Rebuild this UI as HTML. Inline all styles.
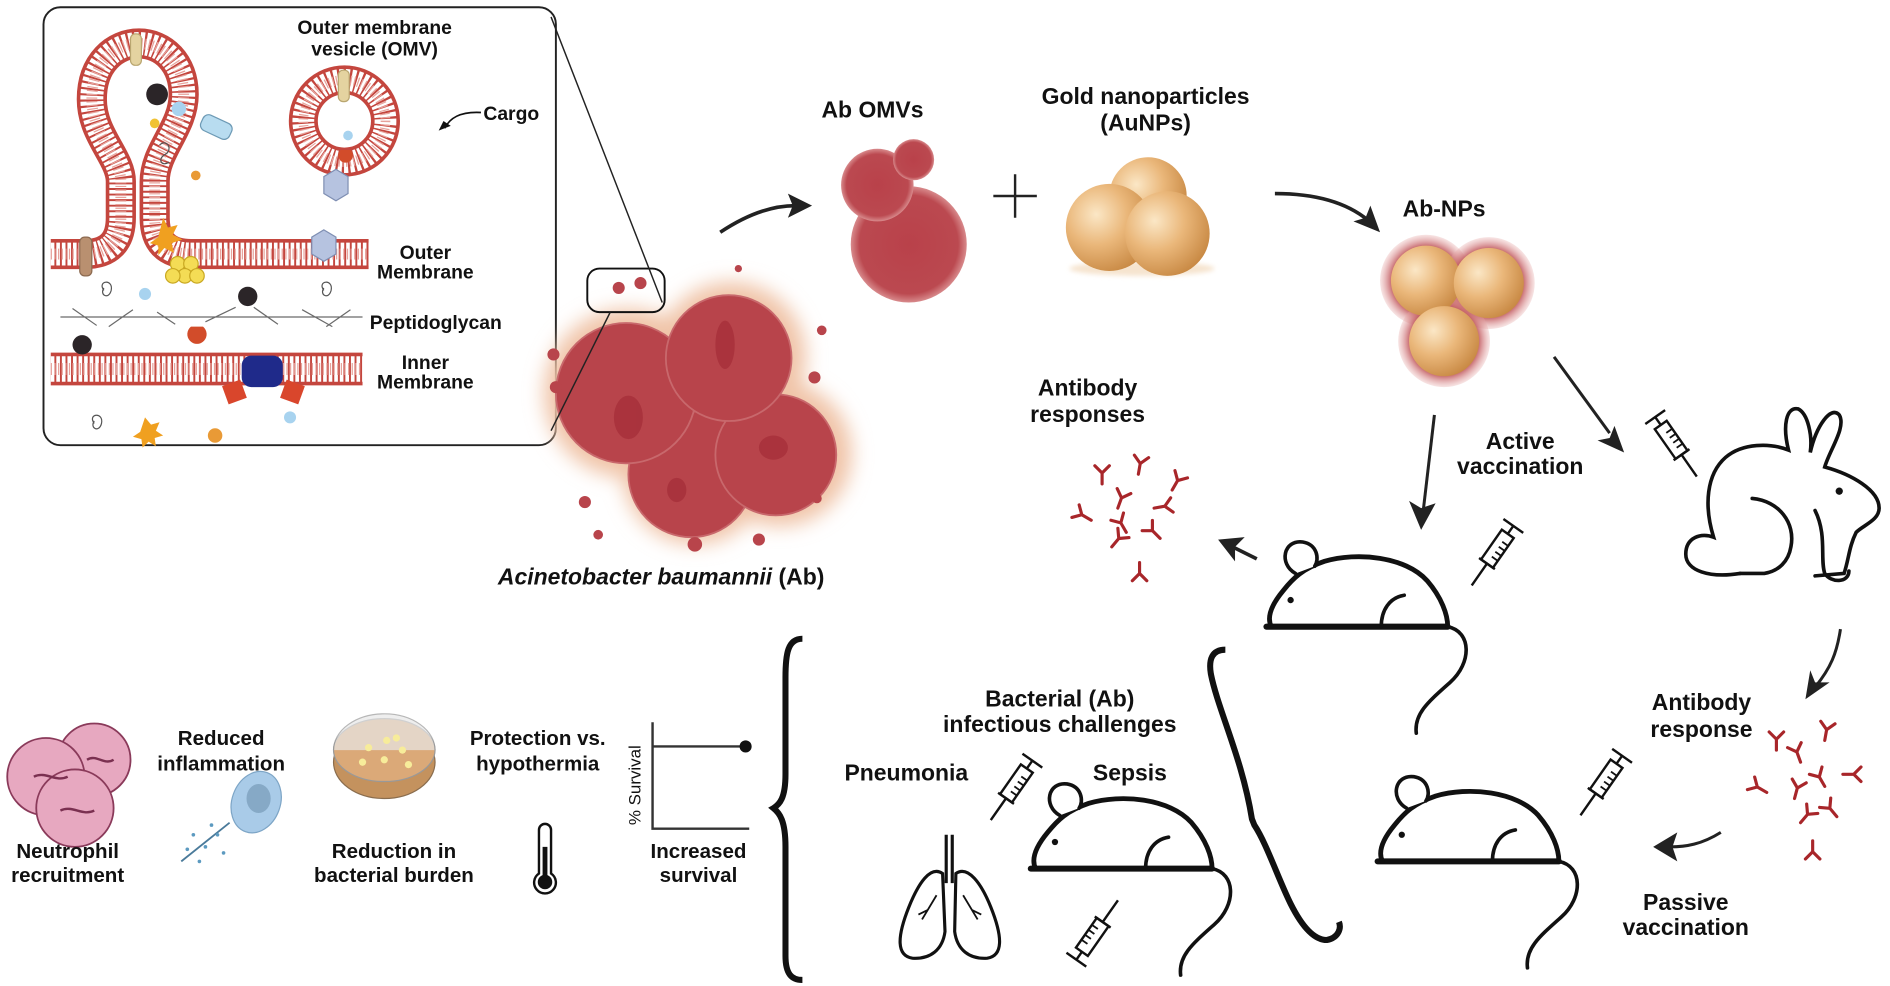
<!DOCTYPE html>
<html><head><meta charset="utf-8"><style>
html,body{margin:0;padding:0;background:#fff;}
svg{display:block;}
text{font-family:"Liberation Sans",sans-serif;font-weight:bold;fill:#111;}
</style></head><body>
<svg width="1890" height="986" viewBox="0 0 1564 815" preserveAspectRatio="none" xmlns="http://www.w3.org/2000/svg">
<defs>
<filter id="blur6" x="-50%" y="-50%" width="200%" height="200%"><feGaussianBlur stdDeviation="8"/></filter>
<filter id="blur2" x="-50%" y="-50%" width="200%" height="200%"><feGaussianBlur stdDeviation="2"/></filter>
<radialGradient id="gold" cx="35%" cy="35%" r="70%"><stop offset="0" stop-color="#fbe7c6"/><stop offset="0.5" stop-color="#eab77a"/><stop offset="1" stop-color="#c98a45"/></radialGradient>
<radialGradient id="red" cx="50%" cy="50%" r="50%"><stop offset="0" stop-color="#b9414a"/><stop offset="0.85" stop-color="#bb4950"/><stop offset="1" stop-color="#d88a8c"/></radialGradient>
<radialGradient id="halo" cx="50%" cy="50%" r="50%"><stop offset="0.7" stop-color="#b8454c"/><stop offset="1" stop-color="#e6a7a6" stop-opacity="0.3"/></radialGradient>
<g id="ab" stroke="#a8262a" stroke-width="2.6" fill="none" stroke-linecap="round"><path d="M0,0 L0,-9 M0,-9 L-6,-15 M0,-9 L6,-15"/></g>
<g id="syr" stroke="#111" stroke-width="2" fill="#fff">
<path d="M-4,-10 L-4,10 M-4,0 L4,0"/><rect x="4" y="-6" width="30" height="12"/>
<path d="M34,-8 L34,8 M34,0 L40,0 M40,0 L56,0" fill="none"/>
<path d="M12,-6 L12,0 M17,-6 L17,0 M22,-6 L22,0 M27,-6 L27,0" fill="none" stroke-width="1.5"/>
</g>
<g id="mouse" fill="none" stroke="#111" stroke-linecap="round">
<path d="M0,0 L150,0" stroke-width="5"/>
<path d="M4,0 C0,-8 4,-18 14,-30 C22,-40 30,-48 48,-54 C75,-62 115,-58 133,-38 C145,-24 150,-10 150,0" stroke-width="4"/>
<path d="M24,-44 C10,-52 14,-72 30,-70 C42,-68 44,-56 40,-50" stroke-width="3" fill="#fff"/>
<circle cx="20" cy="-22" r="2.6" fill="#111" stroke="none"/>
<path d="M95,0 C95,-14 102,-24 114,-26" stroke-width="3"/>
<path d="M150,0 C170,4 170,30 152,46 C134,62 122,72 124,88" stroke-width="3"/>
</g>
</defs>

<!-- inset box -->
<rect x="36" y="6" width="424" height="362" rx="14" fill="#fff" stroke="#222" stroke-width="1.6"/>

<!-- membranes -->
<g fill="none">
<path d="M42,210 L70,210 C90,210 100,200 100,180 L100,150 C100,130 76,112 76,82 C76,52 95,36 115,36 C135,36 152,52 152,78 C152,106 128,124 128,150 L128,180 C128,200 138,210 158,210 L305,210" stroke="#c4463e" stroke-width="25"/>
<path d="M42,210 L70,210 C90,210 100,200 100,180 L100,150 C100,130 76,112 76,82 C76,52 95,36 115,36 C135,36 152,52 152,78 C152,106 128,124 128,150 L128,180 C128,200 138,210 158,210 L305,210" stroke="#fff" stroke-width="19" stroke-dasharray="3 1.6"/>
<path d="M42,210 L70,210 C90,210 100,200 100,180 L100,150 C100,130 76,112 76,82 C76,52 95,36 115,36 C135,36 152,52 152,78 C152,106 128,124 128,150 L128,180 C128,200 138,210 158,210 L305,210" stroke="#e7a39c" stroke-width="9" stroke-dasharray="1 2"/>
<circle cx="285" cy="100" r="34" stroke="#c4463e" stroke-width="24"/>
<circle cx="285" cy="100" r="34" stroke="#fff" stroke-width="18" stroke-dasharray="3 1.6"/>
<circle cx="285" cy="100" r="34" stroke="#e7a39c" stroke-width="8" stroke-dasharray="1 2"/>
<path d="M42,305 L300,305" stroke="#c4463e" stroke-width="27"/>
<path d="M42,305 L300,305" stroke="#fff" stroke-width="21" stroke-dasharray="3 1.6"/>
<path d="M42,305 L300,305" stroke="#e7a39c" stroke-width="10" stroke-dasharray="1 2"/>
</g>
<!-- inset contents -->
<rect x="108" y="28" width="9" height="26" rx="4" fill="#e4d3a0" stroke="#b9a670"/>
<rect x="280" y="58" width="9" height="26" rx="4" fill="#e4d3a0" stroke="#b9a670"/>
<rect x="66" y="196" width="10" height="32" rx="4" fill="#b99070" stroke="#8c6a50"/>
<circle cx="130" cy="78" r="9" fill="#2b2528"/>
<circle cx="128" cy="102" r="4" fill="#f1c233"/>
<circle cx="148" cy="90" r="6" fill="#a8d3ef"/>
<rect x="166" y="98" width="26" height="14" rx="5" fill="#b8dcf0" stroke="#6d9ab5" transform="rotate(25 179 105)"/>
<circle cx="162" cy="145" r="4" fill="#e99a36"/>
<path d="M132,120 c6,-6 12,4 4,8 c-6,4 -2,10 4,6" fill="none" stroke="#555" stroke-width="1"/>
<polygon points="268,190 278,196 278,210 268,216 258,210 258,196" fill="#b6c3e0" stroke="#7f8fb3"/>
<polygon points="278,140 288,146 288,160 278,166 268,160 268,146" fill="#b6c3e0" stroke="#7f8fb3"/>
<circle cx="288" cy="112" r="4" fill="#a8d3ef"/>
<path d="M282,124 a6,6 0 1 0 8,0 z" fill="#d24c2a"/>
<g fill="#f4dc55" stroke="#c9a822"><circle cx="147" cy="218" r="6"/><circle cx="158" cy="218" r="6"/><circle cx="153" cy="228" r="6"/><circle cx="143" cy="228" r="6"/><circle cx="163" cy="228" r="6"/></g>
<path d="M135,180 l4,8 8,-2 -4,8 8,4 -9,3 2,8 -8,-4 -5,6 0,-8 -7,-2 7,-5z" fill="#f0a020"/>
<circle cx="205" cy="245" r="8" fill="#2b2528"/>
<circle cx="68" cy="285" r="8" fill="#2b2528"/>
<path d="M158,270 a8,8 0 1 0 10,0 z" fill="#d24c2a"/>
<circle cx="120" cy="243" r="5" fill="#a8d3ef"/>
<circle cx="240" cy="345" r="5" fill="#a8d3ef"/>
<circle cx="178" cy="360" r="6" fill="#e99a36"/>
<path d="M120,345 l5,6 7,-2 -3,7 6,4 -7,2 1,7 -6,-4 -5,5 -1,-7 -7,-2 6,-4z" fill="#f0a020"/>
<rect x="200" y="294" width="34" height="26" rx="8" fill="#1f2a8a"/>
<rect x="186" y="316" width="16" height="16" fill="#d9462c" transform="rotate(-20 194 324)"/>
<rect x="234" y="316" width="16" height="16" fill="#d9462c" transform="rotate(20 242 324)"/>
<path d="M50,262 L300,262 M60,255 l20,14 M90,270 l20,-14 M130,258 l15,10 M170,266 l25,-12 M210,254 l20,14 M250,256 l25,14 M270,270 l20,-14" stroke="#6a6a6a" stroke-width="1" fill="none"/>
<g fill="none" stroke="#555" stroke-width="1"><path d="M86,240 c-6,-8 8,-10 6,0 c-2,8 -10,4 -6,-2"/><path d="M268,240 c-6,-8 8,-10 6,0 c-2,8 -10,4 -6,-2"/><path d="M78,350 c-6,-8 8,-10 6,0 c-2,8 -10,4 -6,-2"/></g>

<text x="310" y="28" font-size="16" text-anchor="middle">Outer membrane</text>
<text x="310" y="46" font-size="16" text-anchor="middle">vesicle (OMV)</text>
<text x="400" y="99" font-size="16">Cargo</text>
<path d="M398,93 C380,92 372,98 368,106" fill="none" stroke="#111" stroke-width="1.4"/>
<path d="M363,108 l10,-4 -6,-4z" fill="#111"/>
<text x="352" y="214" font-size="16" text-anchor="middle">Outer</text>
<text x="352" y="230" font-size="16" text-anchor="middle">Membrane</text>
<text x="306" y="272" font-size="16">Peptidoglycan</text>
<text x="352" y="305" font-size="16" text-anchor="middle">Inner</text>
<text x="352" y="321" font-size="16" text-anchor="middle">Membrane</text>

<!-- bacteria -->
<g filter="url(#blur6)" fill="#f0c4a8"><circle cx="520" cy="325" r="70"/><circle cx="605" cy="295" r="62"/><circle cx="575" cy="390" r="60"/><circle cx="645" cy="375" r="60"/></g>
<g fill="#b8444b" stroke="#c8686c" stroke-width="1.5">
<circle cx="572" cy="392" r="52"/><circle cx="642" cy="376" r="50"/>
<circle cx="518" cy="325" r="58"/><circle cx="603" cy="296" r="52"/>
</g>
<g fill="#a6303a" opacity="0.8"><ellipse cx="520" cy="345" rx="12" ry="18"/><ellipse cx="600" cy="285" rx="8" ry="20"/><ellipse cx="640" cy="370" rx="12" ry="10"/><ellipse cx="560" cy="405" rx="8" ry="10"/></g>
<g fill="#b8444b"><circle cx="512" cy="238" r="5"/><circle cx="530" cy="234" r="5"/><circle cx="458" cy="293" r="5"/><circle cx="460" cy="320" r="5"/><circle cx="680" cy="273" r="4"/><circle cx="674" cy="312" r="5"/><circle cx="484" cy="415" r="5"/><circle cx="495" cy="442" r="4"/><circle cx="575" cy="450" r="6"/><circle cx="628" cy="446" r="5"/><circle cx="676" cy="412" r="4"/><circle cx="611" cy="222" r="3"/></g>
<rect x="486" y="222" width="64" height="36" rx="10" fill="none" stroke="#111" stroke-width="1.6"/>
<line x1="456" y1="14" x2="548" y2="250" stroke="#222" stroke-width="1.2"/>
<line x1="456" y1="356" x2="505" y2="258" stroke="#222" stroke-width="1.2"/>
<text x="412" y="483" font-size="19" font-style="italic">Acinetobacter baumannii <tspan font-style="normal">(Ab)</tspan></text>

<!-- arrows top -->
<path d="M596,192 C620,176 640,170 658,170" fill="none" stroke="#222" stroke-width="3"/>
<path d="M672,170 l-20,-10 4,10 -4,10z" fill="#222"/>
<text x="722" y="97" font-size="19" text-anchor="middle">Ab OMVs</text>
<g fill="url(#red)"><circle cx="752" cy="202" r="48"/><circle cx="726" cy="153" r="30"/><circle cx="756" cy="132" r="17"/></g>
<path d="M822,162 L858,162 M840,144 L840,180" stroke="#222" stroke-width="2"/>
<text x="948" y="86" font-size="19" text-anchor="middle">Gold nanoparticles</text>
<text x="948" y="108" font-size="19" text-anchor="middle">(AuNPs)</text>
<ellipse cx="945" cy="222" rx="60" ry="6" fill="#f6e4cf" filter="url(#blur2)"/>
<circle cx="950" cy="162" r="32" fill="url(#gold)"/><circle cx="918" cy="188" r="36" fill="url(#gold)"/><circle cx="966" cy="193" r="35" fill="url(#gold)"/>
<path d="M1055,160 C1090,160 1115,168 1132,182" fill="none" stroke="#222" stroke-width="3"/>
<path d="M1142,192 l-8,-22 -4,10 -10,3z" fill="#222"/>
<text x="1195" y="179" font-size="19" text-anchor="middle">Ab-NPs</text>
<g><circle cx="1180" cy="232" r="38" fill="url(#halo)"/><circle cx="1232" cy="234" r="38" fill="url(#halo)"/><circle cx="1195" cy="282" r="38" fill="url(#halo)"/>
<circle cx="1180" cy="232" r="29" fill="url(#gold)"/><circle cx="1232" cy="234" r="29" fill="url(#gold)"/><circle cx="1195" cy="282" r="29" fill="url(#gold)"/></g>

<!-- middle right -->
<text x="900" y="327" font-size="19" text-anchor="middle">Antibody</text>
<text x="900" y="349" font-size="19" text-anchor="middle">responses</text>
<g>
<use href="#ab" transform="translate(912,400)"/><use href="#ab" transform="translate(925,420) rotate(20)"/><use href="#ab" transform="translate(942,392) rotate(10)"/>
<use href="#ab" transform="translate(903,430) rotate(-60)"/><use href="#ab" transform="translate(932,440) rotate(-30)"/><use href="#ab" transform="translate(955,420) rotate(80)"/>
<use href="#ab" transform="translate(920,452) rotate(40)"/><use href="#ab" transform="translate(960,445) rotate(-45)"/><use href="#ab" transform="translate(943,465) rotate(180)"/>
<use href="#ab" transform="translate(970,405) rotate(30)"/>
</g>
<path d="M1040,462 L1020,452" stroke="#222" stroke-width="3"/>
<path d="M1008,446 l22,-2 -8,8 0,12z" fill="#222"/>
<path d="M1187,343 L1178,420" stroke="#222" stroke-width="2.5"/>
<path d="M1176,438 l-10,-24 10,6 12,-4z" fill="#222"/>
<text x="1258" y="371" font-size="19" text-anchor="middle">Active</text>
<text x="1258" y="392" font-size="19" text-anchor="middle">vaccination</text>
<path d="M1286,295 L1332,358" stroke="#222" stroke-width="2.5"/>
<path d="M1344,374 l-22,-10 10,-2 4,-10z" fill="#222"/>
<use href="#syr" transform="translate(1372,348) rotate(55)"/>
<use href="#syr" transform="translate(1250,438) rotate(125)"/>
<use href="#mouse" transform="translate(1048,518)"/>

<!-- rabbit -->
<g fill="none" stroke="#111" stroke-width="3" stroke-linecap="round">
<path d="M1440,474 C1415,478 1395,472 1395,458 C1395,444 1408,440 1418,444 C1410,418 1412,392 1428,378 C1442,366 1465,366 1480,372 C1475,352 1478,336 1488,338 C1496,342 1500,360 1498,374 C1503,352 1515,335 1522,343 C1528,353 1514,372 1510,386 C1532,392 1555,405 1555,420 C1555,430 1542,434 1536,440 C1530,452 1530,462 1526,474 L1502,476"/>
<path d="M1450,412 C1472,414 1486,432 1482,452 C1480,464 1472,472 1460,474 L1440,474"/>
<path d="M1502,422 C1512,442 1506,462 1510,474 C1515,482 1530,482 1530,472"/>
</g>
<circle cx="1522" cy="406" r="3" fill="#111"/>

<!-- right lower -->
<path d="M1523,520 C1520,540 1515,552 1502,568" fill="none" stroke="#222" stroke-width="2.5"/>
<path d="M1494,578 l4,-24 4,10 12,0z" fill="#222"/>
<text x="1408" y="587" font-size="19" text-anchor="middle">Antibody</text>
<text x="1408" y="609" font-size="19" text-anchor="middle">response</text>
<g>
<use href="#ab" transform="translate(1470,620)"/><use href="#ab" transform="translate(1490,630) rotate(-20)"/><use href="#ab" transform="translate(1510,612) rotate(10)"/>
<use href="#ab" transform="translate(1462,655) rotate(-60)"/><use href="#ab" transform="translate(1485,660) rotate(15)"/><use href="#ab" transform="translate(1510,650) rotate(-30)"/>
<use href="#ab" transform="translate(1525,640) rotate(90)"/><use href="#ab" transform="translate(1490,680) rotate(40)"/><use href="#ab" transform="translate(1520,675) rotate(-40)"/>
<use href="#ab" transform="translate(1500,695) rotate(180)"/>
</g>
<path d="M1424,688 C1408,698 1395,700 1382,700" fill="none" stroke="#222" stroke-width="2.5"/>
<path d="M1368,700 l20,-12 -4,12 4,12z" fill="#222"/>
<text x="1395" y="752" font-size="19" text-anchor="middle">Passive</text>
<text x="1395" y="773" font-size="19" text-anchor="middle">vaccination</text>
<use href="#syr" transform="translate(1340,628) rotate(125)"/>
<use href="#mouse" transform="translate(1140,712)"/>

<!-- braces -->
<path d="M664,528 C652,528 650,540 650,560 L650,640 C650,660 645,665 640,668 C645,672 650,678 650,700 L650,790 C650,805 655,810 664,810" fill="none" stroke="#111" stroke-width="5"/>
<path d="M996,540 C985,540 982,548 984,560 C990,590 1010,630 1018,680 L1020,685 C1030,700 1040,730 1050,750 C1060,770 1070,780 1080,780 C1090,778 1092,770 1090,765" fill="none" stroke="#111" stroke-width="5" transform="translate(18,-3)"/>

<!-- challenges -->
<text x="877" y="584" font-size="19" text-anchor="middle">Bacterial (Ab)</text>
<text x="877" y="605" font-size="19" text-anchor="middle">infectious challenges</text>
<text x="750" y="645" font-size="19" text-anchor="middle">Pneumonia</text>
<text x="935" y="645" font-size="19" text-anchor="middle">Sepsis</text>
<use href="#syr" transform="translate(852,632) rotate(125)"/>
<use href="#syr" transform="translate(893,790) rotate(-55)"/>
<use href="#mouse" transform="translate(853,718)"/>
<!-- lungs -->
<g fill="none" stroke="#111" stroke-width="2.6">
<path d="M783,690 L783,730 M788,690 L788,730"/>
<path d="M780,722 C770,715 760,730 752,750 C742,775 742,790 755,792 C770,793 780,785 782,770 Z"/>
<path d="M791,722 C801,715 812,730 820,750 C830,775 830,790 817,792 C802,793 792,785 790,770 Z"/>
<path d="M775,740 l-12,20 M768,752 l-8,4 M797,740 l12,20 M804,752 l8,4" stroke-width="1.5"/>
</g>

<!-- bottom left -->
<g fill="#e7a8c0" stroke="#8a3a5a" stroke-width="1.5">
<circle cx="78" cy="628" r="30"/><circle cx="38" cy="642" r="32"/><circle cx="62" cy="668" r="32"/>
</g>
<g fill="none" stroke="#7a3050" stroke-width="2"><path d="M28,642 c10,-5 18,5 28,0 M50,670 c10,-5 18,5 28,0 M72,628 c8,-5 14,5 22,0"/></g>
<text x="56" y="709" font-size="17" text-anchor="middle">Neutrophil</text>
<text x="56" y="729" font-size="17" text-anchor="middle">recruitment</text>
<text x="183" y="616" font-size="17" text-anchor="middle">Reduced</text>
<text x="183" y="637" font-size="17" text-anchor="middle">inflammation</text>
<ellipse cx="212" cy="663" rx="20" ry="26" fill="#a9cbe8" stroke="#7da5c6" transform="rotate(20 212 663)"/>
<ellipse cx="214" cy="660" rx="10" ry="12" fill="#86a9c6"/>
<path d="M150,712 L190,680" stroke="#4a7a9a" stroke-width="1.5"/>
<g fill="#5c9ac0"><circle cx="160" cy="690" r="1.5"/><circle cx="170" cy="700" r="1.5"/><circle cx="180" cy="690" r="1.5"/><circle cx="165" cy="712" r="1.5"/><circle cx="185" cy="705" r="1.5"/><circle cx="175" cy="682" r="1.5"/><circle cx="155" cy="702" r="1.5"/></g>
<ellipse cx="318" cy="630" rx="42" ry="30" fill="#c4925e" stroke="#8a6d4e"/>
<ellipse cx="318" cy="620" rx="42" ry="26" fill="#dba978" stroke="#999"/>
<path d="M276,620 A42,30 0 0 1 360,620" fill="#e8e8e8" stroke="#999" opacity="0.7"/>
<g fill="#f7ec9a"><circle cx="305" cy="618" r="3"/><circle cx="320" cy="612" r="3"/><circle cx="333" cy="620" r="3"/><circle cx="300" cy="630" r="3"/><circle cx="318" cy="628" r="3"/><circle cx="338" cy="632" r="3"/><circle cx="328" cy="610" r="3"/></g>
<text x="326" y="709" font-size="17" text-anchor="middle">Reduction in</text>
<text x="326" y="729" font-size="17" text-anchor="middle">bacterial burden</text>
<text x="445" y="616" font-size="17" text-anchor="middle">Protection vs.</text>
<text x="445" y="637" font-size="17" text-anchor="middle">hypothermia</text>
<path d="M446,722 L446,686 A5,5 0 0 1 456,686 L456,722 A9,9 0 1 1 446,722 Z" fill="#fff" stroke="#111" stroke-width="2"/>
<circle cx="451" cy="729" r="6" fill="#111"/><rect x="449" y="700" width="4" height="28" fill="#111"/>
<path d="M540,597 L540,685 L620,685 M540,617 L615,617" fill="none" stroke="#333" stroke-width="2"/>
<circle cx="617" cy="617" r="5" fill="#111"/>
<text transform="translate(530,682) rotate(-90)" font-size="14" style="font-weight:normal">% Survival</text>
<text x="578" y="709" font-size="17" text-anchor="middle">Increased</text>
<text x="578" y="729" font-size="17" text-anchor="middle">survival</text>
</svg>
</body></html>
